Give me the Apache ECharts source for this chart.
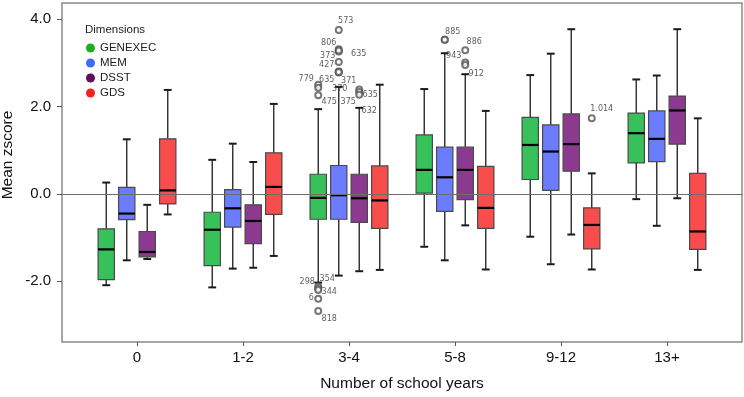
<!DOCTYPE html>
<html>
<head>
<meta charset="utf-8">
<script src="https://cdn.jsdelivr.net/npm/echarts@6/dist/echarts.min.js"></script>
<style>
  html, body { margin: 0; padding: 0; background: #fff; }
  #chart { width: 744px; height: 397px; }
</style>
</head>
<body>
<div id="chart"></div>
<script>
  const categories = ['0', '1-2', '3-4', '5-8', '9-12', '13+']
  const dimensions = ['GENEXEC', 'MEM', 'DSST', 'GDS']
  const yTicks = [-2, 0, 2, 4]

  // per school-year group: [whisker low, q1, median, q3, whisker high]
  const genexec = [
    [-2.09, -1.96, -1.27, -0.80, 0.26],
    [-2.14, -1.64, -0.82, -0.42, 0.78],
    [-2.03, -0.58, -0.09, 0.45, 1.94],
    [-1.21, 0.02, 0.55, 1.35, 2.40],
    [-0.98, 0.33, 1.12, 1.75, 2.72],
    [-0.12, 0.71, 1.39, 1.85, 2.62]
  ]
  const mem = [
    [-1.52, -0.59, -0.45, 0.15, 1.25],
    [-1.71, -0.76, -0.33, 0.10, 1.15],
    [-1.87, -0.58, -0.03, 0.65, 2.45],
    [-1.52, -0.40, 0.38, 1.07, 3.22],
    [-1.61, 0.08, 0.97, 1.58, 3.21],
    [-0.73, 0.74, 1.26, 1.90, 2.71]
  ]
  const dsst = [
    [-1.49, -1.44, -1.33, -0.86, -0.25],
    [-1.69, -1.14, -0.62, -0.25, 0.73],
    [-1.77, -0.65, -0.10, 0.45, 1.97],
    [-0.72, -0.13, 0.55, 1.07, 2.74],
    [-0.93, 0.52, 1.14, 1.83, 3.77],
    [-0.10, 1.14, 1.91, 2.24, 3.77]
  ]
  const gds = [
    [-0.47, -0.23, 0.08, 1.26, 2.38],
    [-1.42, -0.47, 0.16, 0.94, 2.06],
    [-1.74, -0.79, -0.15, 0.64, 2.50],
    [-1.73, -0.79, -0.32, 0.63, 1.90],
    [-1.73, -1.26, -0.71, -0.32, 0.47],
    [-1.74, -1.27, -0.86, 0.47, 1.73]
  ]

  // outliers: [group, dimension, value, case label]
  const outlierPoints = [
    [2, 0, 2.50, '779'], [2, 0, 2.43, ''], [2, 0, 2.26, '475'],
    [2, 0, -2.12, '298'], [2, 0, -2.16, '354'], [2, 0, -2.20, '344'],
    [2, 0, -2.40, '6'], [2, 0, -2.68, '818'],
    [2, 1, 3.75, '573'], [2, 1, 3.31, '806'], [2, 1, 3.26, '373'],
    [2, 1, 3.28, '635'], [2, 1, 3.02, '427'], [2, 1, 2.80, '635'],
    [2, 1, 2.78, '371'], [2, 1, 2.79, '370'],
    [2, 2, 2.39, '375'], [2, 2, 2.33, '635'], [2, 2, 2.27, '632'],
    [3, 1, 3.53, '885'], [3, 1, 3.53, '943'],
    [3, 2, 3.29, '886'], [3, 2, 3.01, ''], [3, 2, 2.95, '912'],
    [4, 3, 1.73, '1.014']
  ]
  // where each case label sits, relative to its circle (px)
  const labelOffsets = [
    [-12, -6], [0, 0], [11, 7],
    [-11, -5], [9, -9], [11, 2],
    [-7, -1], [11, 8],
    [7, -9], [-10, -6], [-11, 4],
    [20, 3], [-12, 3], [-12, 8],
    [10, 8], [1, 17],
    [-11, 12], [11, 3], [10, 16],
    [8, -8], [9, 16],
    [9, -8], [0, 0], [11, 9],
    [10, -9]
  ]

  const boxFill = ['#36c15b', '#6b7cff', '#8c3a8f', '#f94c4c']
  const legendColor = ['#1fae1f', '#3f6cf2', '#5e0f5e', '#f2221e']
  const slot = 0.1934 // distance between neighbouring boxes, in group units
  const font = '"Liberation Sans", Arial, sans-serif'

  const chart = echarts.init(document.getElementById('chart'))

  function renderBox (params, api) {
    const dim = params.seriesIndex
    const x = api.value(0) + (dim - 1.5) * slot
    const band = api.size([1, 0])[0]
    const half = band * 0.077
    const cap = band * 0.037
    const cx = api.coord([x, 0])[0]
    const yLow = api.coord([x, api.value(1)])[1]
    const yQ1 = api.coord([x, api.value(2)])[1]
    const yMed = api.coord([x, api.value(3)])[1]
    const yQ3 = api.coord([x, api.value(4)])[1]
    const yHigh = api.coord([x, api.value(5)])[1]
    const whisker = { stroke: '#2b2b2b', lineWidth: 1.4 }
    return {
      type: 'group',
      children: [
        { type: 'line', shape: { x1: cx, y1: yHigh, x2: cx, y2: yQ3 }, style: whisker },
        { type: 'line', shape: { x1: cx, y1: yQ1, x2: cx, y2: yLow }, style: whisker },
        { type: 'line', shape: { x1: cx - cap, y1: yHigh, x2: cx + cap, y2: yHigh }, style: { stroke: '#1a1a1a', lineWidth: 2 } },
        { type: 'line', shape: { x1: cx - cap, y1: yLow, x2: cx + cap, y2: yLow }, style: { stroke: '#1a1a1a', lineWidth: 2 } },
        {
          type: 'rect',
          shape: { x: cx - half, y: yQ3, width: half * 2, height: yQ1 - yQ3 },
          style: { fill: boxFill[dim], stroke: '#4a4a4a', lineWidth: 1.2 }
        },
        { type: 'line', shape: { x1: cx - half, y1: yMed, x2: cx + half, y2: yMed }, style: { stroke: '#000', lineWidth: 2.2 } }
      ]
    }
  }

  const boxSeries = [genexec, mem, dsst, gds].map((stats, dim) => ({
    name: dimensions[dim],
    type: 'custom',
    renderItem: renderBox,
    itemStyle: { color: legendColor[dim] },
    encode: { x: 0, y: [1, 2, 3, 4, 5] },
    data: stats.map((s, i) => [i].concat(s))
  }))

  const outlierData = outlierPoints.map((p, i) => ({
    value: [p[0] + (p[1] - 1.5) * slot, p[2]],
    label: { formatter: p[3], offset: labelOffsets[i] }
  }))

  const option = {
    animation: false,
    title: {
      text: 'Dimensions',
      left: 85,
      top: 24,
      padding: 0,
      textStyle: { fontFamily: font, fontSize: 11.5, fontWeight: 'normal', color: '#222' }
    },
    legend: {
      data: dimensions,
      orient: 'vertical',
      left: 86,
      top: 42,
      padding: 0,
      icon: 'circle',
      itemWidth: 9,
      itemHeight: 9,
      itemGap: 3,
      selectedMode: false,
      textStyle: { fontFamily: font, fontSize: 11.5, color: '#222', lineHeight: 11 }
    },
    grid: {
      left: 62,
      right: 2,
      top: 3,
      bottom: 54,
      show: true,
      borderColor: '#8a8a8a',
      borderWidth: 1.5
    },
    xAxis: {
      type: 'value',
      min: -0.7075,
      max: 5.7075,
      name: 'Number of school years',
      nameLocation: 'middle',
      nameGap: 34,
      nameTextStyle: { fontFamily: font, fontSize: 15.5, color: '#111' },
      axisLine: { show: false, onZero: false },
      axisTick: { show: true, customValues: [0, 1, 2, 3, 4, 5], length: 4, lineStyle: { color: '#555' } },
      axisLabel: {
        customValues: [0, 1, 2, 3, 4, 5],
        formatter: v => categories[v],
        margin: 8,
        fontFamily: font,
        fontSize: 15,
        color: '#111'
      },
      splitLine: { show: false }
    },
    yAxis: {
      type: 'value',
      min: -3.39,
      max: 4.37,
      axisLine: { show: false, onZero: false },
      axisTick: { show: true, customValues: yTicks, length: 5, lineStyle: { color: '#555' } },
      axisLabel: {
        customValues: yTicks,
        formatter: v => v.toFixed(1),
        margin: 11,
        fontFamily: font,
        fontSize: 15,
        color: '#111'
      },
      splitLine: { show: false }
    },
    graphic: [{
      type: 'text',
      x: 8,
      y: 155,
      rotation: Math.PI / 2,
      style: {
        text: 'Mean zscore',
        align: 'center',
        verticalAlign: 'middle',
        font: '15.5px ' + font,
        fill: '#111'
      }
    }],
    series: boxSeries.concat([{
      name: 'outliers',
      type: 'scatter',
      symbol: 'emptyCircle',
      symbolSize: 6,
      itemStyle: { color: '#555', borderColor: '#555', borderWidth: 0.8 },
      label: {
        show: true,
        position: 'inside',
        fontFamily: '"DejaVu Sans", sans-serif',
        fontSize: 8,
        color: '#333'
      },
      data: outlierData,
      markLine: {
        silent: true,
        symbol: 'none',
        label: { show: false },
        lineStyle: { color: '#6e6e6e', width: 1, type: 'solid' },
        data: [{ yAxis: 0 }]
      }
    }])
  }

  chart.setOption(option)
</script>
</body>
</html>
